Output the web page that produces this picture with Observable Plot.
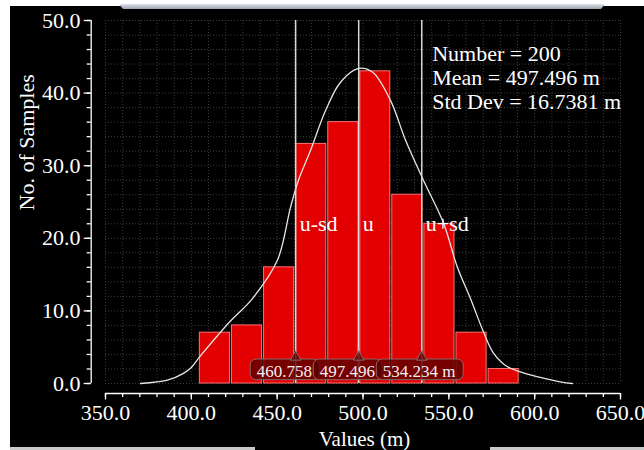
<!DOCTYPE html>
<html>
<head>
<meta charset="utf-8">
<script src="https://cdn.jsdelivr.net/npm/d3@7"></script>
<script src="https://cdn.jsdelivr.net/npm/@observablehq/plot@0.6"></script>
<style>
  html, body { margin: 0; padding: 0; background: #ffffff; }
  #page { position: relative; width: 644px; height: 450px; overflow: hidden; background: #ffffff; }
  #panel { position: absolute; left: 10px; top: 6px; width: 634px; height: 441px; background: #000; }
  #tab { position: absolute; left: 255px; top: 446px; width: 235px; height: 4px; background: #000; }
  #topbar { position: absolute; left: 119px; top: 4px; width: 486px; height: 5px;
            background: linear-gradient(#dfe3ea, #9aa2ae);
            clip-path: polygon(0 0, 100% 0, calc(100% - 4px) 100%, 4px 100%); }
  .botline { position: absolute; top: 447px; height: 3px; background: #c9c9c9; }
  #chart { position: absolute; left: 0; top: 0; }
</style>
</head>
<body>
<div id="page">
  <div id="panel"></div>
  <div id="tab"></div>
  <div id="topbar"></div>
  <div class="botline" style="left:10px;width:245px"></div>
  <div class="botline" style="left:490px;width:154px"></div>
  <div id="chart"></div>
</div>
<script>
// ---- data ----
const binEdges = [403.8, 422.5, 441.2, 459.9, 478.6, 497.3, 515.9, 534.6, 553.3, 572.0, 590.7];
const counts = [7, 8, 16, 33, 36, 43, 26, 22, 7, 2];

const curveX = [370.4, 386.1, 395.4, 399.5, 405.3, 421.6, 435.6, 450.2, 457.8, 462.4, 469.4, 478.2, 486.9, 497.4, 505.5, 516.0, 524.8, 535.2, 546.9, 555.0, 562.6, 570.2, 576.0, 584.2, 591.7, 605.7, 615.6, 622.0];
const curveY = [0, 0.45, 1.4, 2.1, 3.8, 8.3, 11.7, 17.0, 24.3, 28.0, 32.1, 37.6, 41.5, 43.4, 42.9, 39.0, 33.5, 28.0, 22.1, 16.0, 11.7, 7.1, 4.2, 2.3, 1.6, 0.7, 0.2, 0];

const markerValues = [460.758, 497.496, 534.234];
const markerNames = ["u-sd", "u", "u+sd"];
const markerLabels = ["460.758", "497.496", "534.234 m"];

const statsLines = ["Number = 200", "Mean = 497.496 m", "Std Dev = 16.7381 m"];

const xMajorTicks = [350, 400, 450, 500, 550, 600, 650];
const yMajorTicks = [0, 10, 20, 30, 40, 50];
const xTitle = ["Values (m)"];
const yTitle = ["No. of Samples"];

// ---- derived tables ----
const bins = counts.map((c, i) => ({x1: binEdges[i], x2: binEdges[i + 1], count: c}));
const curve = curveX.map((x, i) => ({x, y: curveY[i]}));
const markers = markerValues.map((v, i) => ({v, name: markerNames[i], label: markerLabels[i]}));
const xMinor = d3.range(350, 651, 10);
const yMinor = d3.range(0, 51, 2);

const font = "'Liberation Serif', 'Times New Roman', serif";
const boxFill = "#5a0000";
const boxStroke = "#8a6a6a";
const gridColor = "#3c3c3c";

const chart = Plot.plot({
  width: 644,
  height: 450,
  marginLeft: 105,
  marginRight: 24,
  marginTop: 20,
  marginBottom: 67,
  style: {background: "transparent", color: "white", fontFamily: font, fontSize: "22px"},
  x: {domain: [350, 650]},
  y: {domain: [0, 50]},
  marks: [
    // dotted grid
    Plot.ruleX(xMinor, {x: d => d, stroke: gridColor, strokeWidth: 1, strokeDasharray: "1 2"}),
    Plot.ruleY(yMinor, {y: d => d, stroke: gridColor, strokeWidth: 1, strokeDasharray: "1 2"}),
    // histogram bars
    Plot.rect(bins, {x1: "x1", x2: "x2", y1: d => 0, y2: "count", fill: "#e30000", stroke: "#ff7070", strokeWidth: 1, insetLeft: 2, insetRight: 0}),
    // distribution curve
    Plot.line(curve, {x: "x", y: "y", stroke: "#e6e6e6", strokeWidth: 1.3, curve: "catmull-rom"}),
    // mean / sd lines
    Plot.ruleX(markers, {x: "v", y1: d => 0, y2: d => 50, stroke: "#d8d8d8", strokeWidth: 1.5}),
    Plot.text(markers, {x: "v", y: d => 22, text: "name", textAnchor: "start", dx: 4, fill: "white", fontSize: 22}),
    // callouts
    Plot.rect(markers.slice(0, 2), {x1: "v", x2: "v", y1: d => 0, y2: d => 0, insetLeft: -45, insetRight: -24, insetTop: -24, insetBottom: 3.3, rx: 6, fill: boxFill, fillOpacity: 0.8, stroke: boxStroke, strokeWidth: 1}),
    Plot.rect(markers.slice(2), {x1: "v", x2: "v", y1: d => 0, y2: d => 0, insetLeft: -45, insetRight: -42, insetTop: -24, insetBottom: 3.3, rx: 6, fill: boxFill, fillOpacity: 0.8, stroke: boxStroke, strokeWidth: 1}),
    Plot.dot(markers, {x: "v", y: d => 0, dy: -26.5, symbol: "triangle", r: 4, fill: boxFill, fillOpacity: 0.8, stroke: boxStroke, strokeWidth: 1}),
    Plot.text(markers, {x: "v", y: d => 0, text: "label", textAnchor: "start", dx: -39, dy: -12.4, fontSize: 17, fill: "#f2f2f2"}),
    // statistics text
    Plot.text([statsLines.join("\n")], {text: d => d, frameAnchor: "top-right", textAnchor: "start", lineAnchor: "top", lineHeight: 1.11, dx: -188.3, dy: 22.7, fill: "white", fontSize: 22}),
    // axes lines
    Plot.ruleY([0], {y: d => d, dy: 10, stroke: "white", strokeWidth: 1.3}),
    Plot.ruleX([350], {x: d => d, y1: d => 0, y2: d => 50, dx: -14.3, stroke: "white", strokeWidth: 1.3}),
    // x axis ticks
    Plot.axisX({ticks: xMinor, tickSize: 4, tickFormat: () => "", dy: 10, label: null, strokeWidth: 1.3}),
    Plot.axisX({ticks: xMajorTicks, tickSize: 6.5, tickPadding: 4, tickFormat: d => d.toFixed(1), dy: 10, label: null, fontSize: 22, strokeWidth: 1.3}),
    // y axis ticks
    Plot.axisY({ticks: yMinor, tickSize: 4, tickFormat: () => "", dx: -14.3, label: null, strokeWidth: 1.3}),
    Plot.axisY({ticks: yMajorTicks, tickSize: 7, tickPadding: 3.7, tickFormat: d => d.toFixed(1), dx: -14.3, label: null, fontSize: 22, strokeWidth: 1.3}),
    // axis titles
    Plot.text(xTitle, {text: d => d, frameAnchor: "bottom", lineAnchor: "bottom", dy: 62, dx: 1.5, fill: "white", fontSize: 21}),
    Plot.text(yTitle, {text: d => d, frameAnchor: "left", rotate: -90, dx: -79, dy: 8.5, fill: "white", fontSize: 22})
  ]
});
document.getElementById("chart").appendChild(chart);
</script>
</body>
</html>
